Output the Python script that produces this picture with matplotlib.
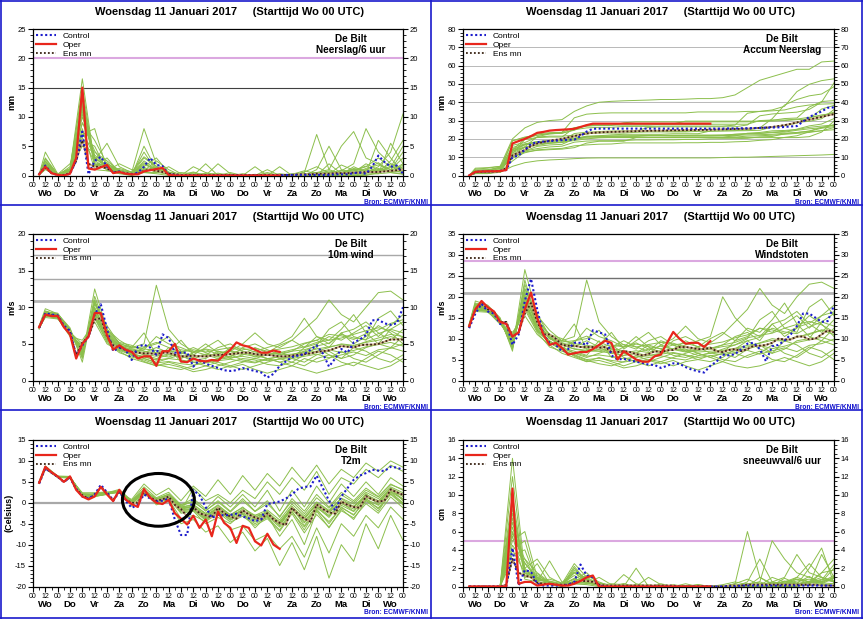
import numpy as np
import matplotlib
matplotlib.use("Agg")
import matplotlib.pyplot as plt
from matplotlib.lines import Line2D
from matplotlib.patches import Ellipse
from matplotlib.ticker import MultipleLocator
import matplotlib.transforms as mtransforms

plt.rcParams['font.family'] = ['Liberation Sans', 'DejaVu Sans']
plt.rcParams['axes.unicode_minus'] = False

# ---------------- time axes (hours after Wo 00 UTC) ----------------
t6 = np.arange(6, 361, 6)          # control / ens mean
t_oper = np.arange(6, 241, 6)      # operational run (10 days)
t_mem = np.r_[6, np.arange(12, 361, 12)]   # ensemble members (12-hourly)
days = ['Wo', 'Do', 'Vr', 'Za', 'Zo', 'Ma', 'Di', 'Wo', 'Do', 'Vr', 'Za', 'Zo', 'Ma', 'Di', 'Wo']
title = 'Woensdag 11 Januari 2017     (Starttijd Wo 00 UTC)'

# ---------------- Neerslag / 6 uur (mm) ----------------
rr_oper = [0.2, 1.5, 0.4, 0.1, 0.0, 0.3, 3.0, 15.0, 1.2, 1.0, 1.4, 1.8, 0.4, 0.6, 0.3, 0.2, 0.2, 0.7, 0.9, 1.1,
           1.3, 0.1, 0, 0, 0, 0, 0, 0, 0, 0, 0, 0, 0, 0, 0, 0, 0, 0, 0, 0]
rr_ctrl = [0.2, 1.7, 0.4, 0.1, 0.0, 0.3, 2.5, 7.5, 0.2, 2.5, 3.2, 1.5, 0.5, 0.7, 0.3, 0.2, 0.5, 1.5, 3.0, 1.8,
           1.6, 0.2, 0.1, 0, 0, 0, 0, 0, 0, 0, 0, 0, 0, 0, 0, 0, 0, 0, 0, 0,
           0.1, 0.1, 0.1, 0.1, 0.1, 0.1, 0.1, 0.1, 0.2, 0.2, 0.2, 0.4, 0.5, 0.3, 1.5, 3.4, 2.3, 1.5, 1.7, 0.3]
rr_mean = [0.3, 1.3, 0.4, 0.1, 0.1, 0.4, 2.5, 6.0, 2.0, 1.5, 1.5, 1.2, 0.6, 0.6, 0.4, 0.3, 0.3, 0.8, 1.0, 0.8,
           0.6, 0.3, 0.2, 0.1, 0.1, 0.1, 0.1, 0.1, 0.1, 0.1, 0.1, 0.1, 0.1, 0.1, 0.1, 0.1, 0.1, 0.1, 0.1, 0.1,
           0.1, 0.1, 0.2, 0.2, 0.2, 0.3, 0.3, 0.3, 0.4, 0.4, 0.4, 0.5, 0.5, 0.6, 0.6, 0.6, 0.7, 0.8, 0.9, 1.0]
rr_members = [
    [0.2, 2.0, 0.1, 0.5, 12.0, 3.0, 1.5, 0.5, 0.2, 1.0, 0.8, 0.2, 0, 0, 0, 0, 0, 0, 0, 0, 0, 0.1, 0.3, 0.5, 0.2, 0.5, 1.0, 0.8, 0.5, 1.0, 0.5],
    [0.3, 1.5, 0.2, 1.0, 16.5, 2.0, 1.0, 0.8, 0.3, 2.0, 1.0, 0.3, 0, 0.5, 0, 0, 0.2, 0, 0, 0, 0, 0, 0.5, 7.0, 1.0, 0.3, 0.5, 2.0, 1.0, 0.5, 0.2],
    [0.2, 4.0, 0.3, 0.8, 9.0, 6.0, 2.0, 1.0, 0.5, 8.0, 2.0, 0.5, 0.2, 0, 0, 0, 0, 0, 0, 0.5, 0, 0, 0, 0.3, 0, 0.8, 2.0, 8.0, 4.0, 2.0, 1.0],
    [0.1, 1.0, 0.0, 1.5, 14.0, 1.5, 3.0, 0.5, 0, 0.5, 0.5, 1.5, 0.3, 0, 0, 2.0, 0.3, 0, 0, 0, 0, 0, 0, 1.0, 5.0, 1.0, 0.5, 0.5, 1.5, 4.0, 10.5],
    [0.2, 2.5, 0.2, 2.0, 7.0, 8.0, 1.0, 0.3, 0, 5.0, 1.0, 0.3, 0, 1.5, 0.5, 0, 0, 0, 0, 0, 0, 0, 0, 0, 0.3, 0.5, 1.0, 0.3, 6.0, 3.0, 0.5],
    [0.3, 1.8, 0.1, 0.3, 11.0, 2.5, 5.5, 1.5, 0.5, 1.5, 3.0, 0.5, 0, 0, 0, 0, 0, 0, 1.5, 0, 0, 0, 0, 0, 0, 0, 0.3, 0.5, 0.3, 5.5, 2.0],
    [0.2, 3.0, 0.2, 1.2, 5.0, 4.0, 2.5, 0.8, 0.3, 3.0, 1.5, 0.2, 0.5, 0.3, 0, 0, 0, 0.3, 0, 0, 1.5, 0, 0.2, 0.5, 1.0, 5.0, 7.5, 3.0, 2.0, 1.0, 4.0],
    [0.1, 1.2, 0.0, 0.5, 8.0, 1.0, 0.8, 2.0, 1.0, 0.5, 0.3, 0, 0, 0, 0, 0, 0, 0, 0, 0, 0, 0, 0, 0, 0, 0, 0, 0.2, 0.3, 0.5, 0.3],
    [0.2, 2.2, 0.2, 0.8, 10.0, 3.5, 1.5, 0.5, 0.2, 4.0, 0.8, 0.2, 0, 0.2, 0, 0, 0, 0, 0, 1.0, 0, 0, 0, 0.2, 0.5, 0.5, 0.8, 1.5, 3.0, 1.5, 0.8],
    [0.3, 1.6, 0.1, 0.6, 13.0, 2.0, 1.2, 0.6, 0.2, 1.2, 0.7, 0.3, 0.1, 0, 0, 0, 0, 0, 0, 0, 0, 0.2, 0.8, 0.3, 0, 0.5, 0.3, 1.0, 0.8, 0.6, 1.5],
    [0.2, 1.4, 0.1, 0.4, 6.0, 5.0, 0.8, 0.4, 0.3, 0.8, 2.5, 1.0, 0, 0, 2.0, 0, 0, 0, 0, 0, 0, 0, 0, 0, 0, 0, 0, 0, 0.5, 2.5, 6.0],
    [0.1, 2.8, 0.2, 0.9, 15.0, 1.8, 2.0, 0.7, 0.2, 2.5, 1.0, 0.4, 0, 0, 0, 0, 0.5, 0, 0, 0, 0, 0, 0, 0, 2.0, 0.3, 0, 0.5, 1.0, 0.8, 2.0],
    [0.3, 1.2, 0.2, 0.6, 10.5, 2.8, 1.8, 0.6, 0.3, 1.8, 1.2, 0.3, 0.1, 0.2, 0.1, 0.2, 0, 0.1, 0, 0.1, 0, 0.1, 0.2, 0.4, 0.3, 0.6, 0.4, 1.2, 1.8, 1.0, 3.0],
    [0.2, 1.9, 0.1, 0.7, 7.5, 3.2, 1.3, 0.9, 0.4, 2.2, 0.6, 0.2, 0, 0.1, 0.3, 0, 0.1, 0, 0.2, 0, 0.3, 0.1, 0, 0.2, 0.8, 0.2, 1.5, 0.6, 0.9, 2.0, 1.2],
    [0.2, 1.1, 0.2, 0.9, 11.5, 1.6, 2.2, 0.4, 0.2, 1.0, 0.9, 0.6, 0.2, 0, 0, 0, 0, 0.2, 0, 0, 0, 0, 0.6, 1.5, 0.4, 0.9, 0.2, 0.5, 1.2, 0.7, 0.6],
    [0.1, 1.7, 0.1, 0.5, 9.0, 4.2, 0.9, 1.2, 0.6, 3.2, 1.6, 0.2, 0, 0, 0.4, 0.2, 0, 0, 0, 0.3, 0, 0.3, 0, 0.1, 0.2, 1.8, 0.9, 1.6, 0.6, 1.4, 5.0],
    [0.3, 2.4, 0.2, 1.1, 6.5, 2.2, 1.6, 0.5, 0.3, 1.4, 0.5, 0.4, 0.1, 0.6, 0, 0, 0, 0, 0.1, 0, 0.2, 0, 0.3, 0.2, 0.6, 0.4, 1.2, 0.9, 2.2, 0.5, 1.8],
    [0.2, 1.3, 0.1, 0.4, 12.5, 2.6, 1.1, 0.7, 0.2, 0.9, 1.4, 0.2, 0, 0, 0, 0.4, 0, 0, 0, 0, 0, 0, 0.1, 0.3, 0.1, 0.2, 0.6, 0.4, 0.7, 1.6, 0.9],
]

# ---------------- Accum Neerslag (mm) ----------------
acc_oper = [0.0, 2.0, 2.2, 2.3, 2.3, 2.4, 3.0, 17.5, 18.8, 20.0, 21.5, 23.3, 23.8, 24.5, 24.8, 25.0, 25.2, 25.5, 26.5, 27.5,
            28.3, 28.3, 28.3, 28.3, 28.3, 28.3, 28.3, 28.3, 28.3, 28.3, 28.3, 28.3, 28.3, 28.3, 28.3, 28.3, 28.3, 28.3, 28.3, 28.3]
acc_ctrl = [0.0, 2.0, 2.2, 2.3, 2.3, 2.5, 3.0, 10.0, 11.0, 14.0, 17.2, 18.2, 18.5, 18.8, 19.0, 19.3, 19.5, 19.6, 21.5, 24.0,
            25.5, 25.6, 25.6, 25.6, 25.6, 25.6, 25.6, 25.6, 25.6, 25.6, 25.6, 25.6, 25.6, 25.6, 25.6, 25.6, 25.6, 25.6, 25.6, 25.6,
            25.6, 25.6, 25.7, 25.7, 25.8, 25.8, 25.9, 26.0, 26.1, 26.2, 26.3, 26.5, 26.8, 27.0, 29.5, 32.0, 33.5, 35.0, 37.0, 37.2]
acc_mean = [0.0, 1.8, 2.0, 2.1, 2.2, 2.3, 4.0, 11.0, 12.5, 14.0, 16.0, 17.5, 18.3, 19.0, 19.5, 20.0, 20.8, 21.5, 22.3, 23.0,
            23.3, 23.5, 23.7, 23.8, 23.9, 24.0, 24.1, 24.2, 24.3, 24.4, 24.5, 24.5, 24.6, 24.7, 24.7, 24.8, 24.8, 24.9, 24.9, 25.0,
            25.1, 25.2, 25.3, 25.4, 25.5, 25.6, 25.8, 26.0, 26.2, 26.5, 27.0, 27.5, 28.2, 29.0, 29.8, 30.5, 31.3, 32.0, 32.8, 33.5]
acc_members = [
    [0, 2.0, 2.2, 2.5, 14.0, 17.0, 18.5, 19.0, 19.2, 20.0, 20.5, 20.7, 20.7, 20.7, 20.7, 20.7, 20.7, 20.7, 20.7, 20.7, 20.7, 20.8, 21.0, 21.5, 21.7, 22.0, 22.5, 23.0, 23.5, 24.5, 25.0],
    [0, 1.5, 1.7, 2.7, 19.0, 21.0, 22.0, 22.8, 23.0, 25.0, 26.0, 26.3, 26.3, 26.8, 26.8, 26.8, 27.0, 27.0, 27.0, 27.0, 27.0, 27.0, 27.5, 34.0, 35.0, 35.3, 35.8, 37.5, 38.5, 39.0, 39.2],
    [0, 4.0, 4.3, 5.0, 14.0, 20.0, 22.0, 23.0, 23.5, 31.5, 33.5, 34.0, 34.2, 34.2, 34.2, 34.2, 34.2, 34.2, 34.2, 34.7, 34.7, 34.7, 34.7, 35.0, 35.0, 35.8, 37.8, 45.8, 49.8, 51.8, 52.8],
    [0, 1.0, 1.0, 2.5, 16.5, 18.0, 21.0, 21.5, 21.5, 22.0, 22.5, 24.0, 24.3, 24.3, 24.3, 26.3, 26.6, 26.6, 26.6, 26.6, 26.6, 26.6, 26.6, 27.6, 32.6, 33.6, 34.1, 34.6, 36.1, 40.1, 50.6],
    [0, 2.5, 2.7, 4.7, 11.7, 19.7, 20.7, 21.0, 21.0, 26.0, 27.0, 27.3, 27.3, 28.8, 29.3, 29.3, 29.3, 29.3, 29.3, 29.3, 29.3, 29.3, 29.3, 29.3, 29.6, 30.1, 31.1, 31.4, 37.4, 40.4, 40.9],
    [0, 1.8, 1.9, 2.2, 13.2, 15.7, 21.2, 22.7, 23.2, 24.7, 27.7, 28.2, 28.2, 28.2, 28.2, 28.2, 28.2, 28.2, 29.7, 29.7, 29.7, 29.7, 29.7, 29.7, 29.7, 29.7, 30.0, 30.5, 30.8, 36.3, 38.3],
    [0, 3.0, 3.2, 4.4, 9.4, 13.4, 15.9, 16.7, 17.0, 20.0, 21.5, 21.7, 22.2, 22.5, 22.5, 22.5, 22.5, 22.8, 22.8, 22.8, 24.3, 24.3, 24.5, 25.0, 26.0, 31.0, 38.5, 41.5, 43.5, 44.5, 48.5],
    [0, 1.2, 1.2, 1.7, 5.0, 7.0, 8.0, 8.5, 8.8, 9.2, 9.5, 9.6, 9.6, 9.6, 9.6, 9.6, 9.6, 9.6, 9.6, 9.6, 9.6, 9.8, 10.0, 10.0, 10.2, 10.4, 10.6, 10.8, 11.0, 11.2, 11.5],
    [0, 2.2, 2.4, 3.2, 13.2, 16.7, 18.2, 18.7, 18.9, 22.9, 23.7, 23.9, 23.9, 24.1, 24.1, 24.1, 24.1, 24.1, 24.1, 25.1, 25.1, 25.1, 25.1, 25.3, 25.8, 26.3, 27.1, 28.6, 31.6, 33.1, 33.9],
    [0, 1.6, 1.7, 2.3, 15.3, 17.3, 18.5, 19.1, 19.3, 20.5, 21.2, 21.5, 21.6, 21.6, 21.6, 21.6, 21.6, 21.6, 21.6, 21.6, 21.6, 21.8, 22.6, 22.9, 22.9, 23.4, 23.7, 24.7, 25.5, 26.1, 27.6],
    [0, 1.4, 1.5, 1.9, 7.9, 12.9, 13.7, 14.1, 14.4, 15.2, 17.7, 18.7, 18.7, 18.7, 20.7, 20.7, 20.7, 20.7, 20.7, 20.7, 20.7, 20.7, 20.7, 20.7, 20.7, 20.7, 20.7, 20.7, 21.2, 23.7, 29.7],
    [0, 2.8, 3.0, 3.9, 18.9, 20.7, 22.7, 23.4, 23.6, 26.1, 27.1, 27.5, 27.5, 27.5, 27.5, 27.5, 28.0, 28.0, 28.0, 28.0, 28.0, 28.0, 28.0, 28.0, 30.0, 30.3, 30.3, 30.8, 31.8, 32.6, 34.6],
    [0, 3.5, 4.0, 5.0, 20.0, 26.0, 29.0, 30.0, 30.5, 35.0, 38.0, 40.0, 40.5, 40.8, 41.0, 41.2, 41.5, 41.5, 41.7, 42.0, 42.0, 42.5, 44.0, 48.0, 52.0, 54.0, 56.0, 58.0, 58.0, 62.0, 62.5],
    [0, 1.2, 1.4, 2.0, 12.5, 15.3, 17.1, 17.7, 18.0, 19.8, 21.0, 21.3, 21.4, 21.6, 21.7, 21.9, 21.9, 22.0, 22.0, 22.1, 22.1, 22.2, 22.4, 22.8, 23.1, 23.7, 24.1, 25.3, 27.1, 28.1, 31.1],
    [0, 1.9, 2.0, 2.7, 10.2, 13.4, 14.7, 15.6, 16.0, 18.2, 18.8, 19.0, 19.0, 19.1, 19.4, 19.4, 19.5, 19.5, 19.7, 19.7, 20.0, 20.1, 20.1, 20.3, 21.1, 21.3, 22.8, 23.4, 24.3, 26.3, 27.5],
    [0, 1.1, 1.3, 2.2, 13.7, 15.3, 17.5, 17.9, 18.1, 19.1, 20.0, 20.6, 20.8, 20.8, 20.8, 20.8, 20.8, 21.0, 21.0, 21.0, 21.0, 21.0, 21.6, 23.1, 23.5, 24.4, 24.6, 25.1, 26.3, 27.0, 27.6],
    [0, 1.7, 1.8, 2.3, 11.3, 15.5, 16.4, 17.6, 18.2, 21.4, 23.0, 23.2, 23.2, 23.2, 23.6, 23.8, 23.8, 23.8, 23.8, 24.1, 24.1, 24.4, 24.4, 24.5, 24.7, 26.5, 27.4, 29.0, 29.6, 31.0, 36.0],
    [0, 2.4, 2.6, 3.7, 10.2, 12.4, 14.0, 14.5, 14.8, 16.2, 16.7, 17.1, 17.2, 17.8, 17.8, 17.8, 17.8, 17.8, 17.9, 17.9, 18.1, 18.1, 18.4, 18.6, 19.2, 19.6, 20.8, 21.7, 23.9, 24.4, 26.2],
    [0, 1.3, 1.4, 1.8, 14.3, 16.9, 18.0, 18.7, 18.9, 19.8, 21.2, 21.4, 21.4, 21.4, 21.4, 21.8, 21.8, 21.8, 21.8, 21.8, 21.8, 21.8, 21.9, 22.2, 22.3, 22.5, 23.1, 23.5, 24.2, 25.8, 26.7],
]

# ---------------- 10m wind (m/s) ----------------
ff_oper = [7.3, 9.0, 8.8, 8.8, 7.3, 6.3, 3.0, 5.0, 6.0, 9.2, 9.2, 6.2, 4.2, 4.8, 4.2, 3.9, 3.0, 3.3, 3.3, 2.0,
           4.0, 4.0, 5.0, 2.6, 2.5, 3.0, 2.7, 2.6, 2.8, 2.7, 3.5, 4.2, 5.2, 4.8, 4.6, 4.2, 3.8, 3.8, 4.1, 3.9]
ff_ctrl = [7.2, 9.2, 9.0, 8.9, 7.5, 6.8, 3.3, 4.8, 6.0, 9.0, 10.4, 7.0, 4.0, 4.5, 4.2, 2.8, 4.6, 4.9, 4.5, 3.5,
           6.3, 5.8, 3.8, 3.8, 3.8, 1.9, 2.8, 2.3, 2.0, 1.7, 1.4, 1.3, 1.4, 1.7, 1.5, 1.3, 1.1, 0.4, 0.9, 2.0,
           2.6, 3.2, 3.4, 3.6, 4.2, 4.8, 3.7, 1.9, 3.0, 4.3, 3.8, 5.2, 5.6, 6.2, 8.2, 8.3, 7.8, 7.6, 7.8, 10.0]
ff_mean = [7.2, 9.0, 8.9, 8.8, 7.3, 6.6, 3.5, 5.2, 6.0, 8.3, 8.5, 6.0, 4.8, 4.5, 4.2, 3.9, 3.8, 3.7, 3.7, 3.6,
           3.8, 3.8, 3.5, 3.3, 3.3, 3.4, 3.3, 3.3, 3.4, 3.5, 3.5, 3.6, 3.7, 3.8, 3.8, 3.6, 3.5, 3.5, 3.4, 3.3,
           3.3, 3.4, 3.5, 3.6, 3.7, 3.9, 4.0, 4.1, 4.4, 4.7, 4.6, 4.5, 4.8, 4.9, 4.9, 5.0, 5.3, 5.6, 5.6, 5.6]
ff_members = [
    [7.2, 9.1, 8.8, 6.5, 4.5, 9.0, 6.0, 4.5, 4.0, 3.5, 3.0, 3.5, 3.2, 3.0, 3.5, 3.0, 3.3, 3.8, 3.5, 3.0, 3.2, 3.5, 3.8, 4.0, 4.5, 5.0, 4.8, 5.2, 5.5, 6.0, 5.5],
    [7.4, 9.5, 9.0, 7.0, 3.2, 12.5, 7.0, 5.5, 4.5, 5.0, 13.0, 7.0, 5.0, 4.0, 3.5, 4.5, 5.0, 4.0, 3.5, 3.0, 2.5, 3.0, 4.5, 6.0, 5.5, 7.0, 9.0, 6.5, 5.0, 4.5, 6.0],
    [7.1, 8.8, 8.5, 6.0, 5.5, 8.0, 5.0, 4.0, 3.0, 2.5, 2.0, 2.5, 2.0, 1.5, 2.0, 2.5, 2.0, 1.5, 2.0, 2.5, 3.0, 2.5, 2.0, 3.0, 3.5, 2.5, 2.0, 3.0, 4.0, 3.5, 2.5],
    [7.3, 9.3, 9.2, 6.8, 3.8, 10.5, 7.5, 5.0, 3.5, 4.5, 5.0, 6.0, 4.0, 3.0, 2.5, 3.0, 4.0, 5.0, 6.5, 5.0, 4.5, 5.5, 7.0, 8.5, 11.0, 9.0, 8.0, 10.0, 12.0, 12.2, 11.0],
    [7.0, 9.0, 8.6, 6.3, 4.0, 9.5, 5.5, 4.2, 3.8, 3.0, 2.5, 3.0, 3.5, 2.5, 2.0, 1.5, 2.0, 2.5, 3.0, 3.5, 4.0, 3.0, 2.5, 3.5, 4.0, 3.0, 3.5, 4.5, 5.0, 7.0, 8.0],
    [7.5, 9.8, 9.1, 7.2, 2.5, 11.0, 6.5, 4.8, 4.5, 6.5, 3.5, 4.0, 5.5, 3.5, 4.5, 5.5, 4.0, 3.5, 4.0, 4.5, 5.0, 6.0, 8.5, 6.0, 5.0, 6.5, 7.0, 8.0, 6.5, 5.5, 7.0],
    [7.2, 8.6, 8.4, 6.6, 5.0, 8.5, 5.2, 3.8, 3.2, 2.8, 2.2, 1.8, 1.5, 2.0, 2.8, 2.2, 1.8, 2.2, 1.5, 1.0, 1.5, 2.0, 1.5, 1.0, 1.5, 2.0, 2.5, 2.0, 1.5, 2.0, 3.0],
    [7.3, 9.2, 8.9, 6.9, 3.5, 10.0, 6.2, 4.6, 4.2, 3.8, 4.5, 3.8, 3.0, 3.8, 4.2, 3.6, 3.2, 4.5, 5.0, 4.2, 3.5, 4.0, 5.0, 5.5, 4.5, 6.5, 5.0, 6.0, 7.5, 6.5, 5.0],
    [7.1, 9.0, 8.7, 6.2, 4.2, 8.8, 5.8, 4.3, 3.6, 3.3, 2.8, 4.5, 2.5, 2.8, 3.0, 4.0, 3.5, 2.8, 2.5, 3.0, 2.5, 2.0, 3.0, 2.5, 3.0, 4.0, 3.0, 2.5, 3.5, 4.5, 4.0],
    [7.4, 9.4, 9.0, 6.7, 3.0, 11.5, 6.8, 5.2, 4.8, 4.0, 3.5, 3.2, 3.8, 4.5, 3.8, 3.2, 4.5, 4.0, 3.2, 3.8, 4.8, 5.5, 4.5, 5.0, 6.0, 5.5, 6.5, 7.5, 6.0, 7.5, 9.0],
    [7.2, 8.9, 8.6, 6.4, 4.6, 9.2, 5.6, 4.4, 3.4, 2.6, 2.0, 2.2, 1.8, 1.2, 1.5, 2.0, 2.5, 3.0, 2.8, 2.2, 2.0, 2.5, 3.5, 4.5, 3.5, 3.0, 4.5, 4.0, 3.0, 2.5, 3.5],
    [7.3, 9.2, 8.8, 6.5, 3.8, 9.8, 6.0, 4.9, 4.0, 4.2, 6.0, 5.0, 4.5, 3.8, 5.0, 3.8, 3.0, 3.5, 4.5, 3.8, 3.0, 3.5, 4.0, 4.8, 7.0, 8.0, 6.0, 5.5, 8.5, 9.5, 7.5],
    [7.2, 9.0, 8.7, 6.6, 4.1, 9.4, 5.9, 4.6, 4.1, 3.6, 3.3, 3.6, 3.4, 3.2, 3.6, 3.3, 3.6, 3.9, 3.7, 3.4, 3.5, 3.6, 3.9, 4.3, 4.6, 4.9, 4.7, 5.3, 5.8, 6.3, 6.0],
    [7.3, 9.1, 8.9, 6.8, 3.6, 9.9, 6.3, 4.7, 4.3, 4.0, 3.8, 4.1, 3.7, 3.5, 3.2, 3.7, 4.1, 3.6, 3.3, 3.6, 3.8, 4.2, 4.6, 5.2, 5.5, 5.8, 6.3, 6.8, 7.2, 6.8, 5.9],
    [7.2, 8.9, 8.6, 6.4, 4.4, 9.1, 5.7, 4.4, 3.7, 3.2, 2.8, 3.0, 2.8, 2.5, 2.7, 2.9, 3.1, 3.3, 3.0, 2.7, 2.9, 3.2, 3.5, 3.8, 4.2, 3.8, 4.1, 4.6, 4.9, 5.2, 4.7],
    [7.3, 9.3, 9.0, 6.9, 3.4, 10.5, 6.6, 5.0, 4.6, 4.3, 4.1, 3.9, 4.2, 3.9, 4.3, 4.0, 3.7, 4.2, 4.4, 4.0, 4.3, 4.6, 5.1, 5.5, 6.3, 6.1, 5.6, 6.4, 6.9, 7.8, 8.3],
    [7.1, 8.8, 8.5, 6.2, 4.8, 8.7, 5.4, 4.1, 3.5, 3.0, 2.4, 2.6, 2.3, 2.1, 2.4, 2.7, 2.9, 2.6, 2.4, 2.9, 3.3, 3.0, 3.3, 3.6, 3.1, 3.5, 3.9, 3.4, 4.2, 4.4, 5.0],
    [7.4, 9.4, 9.1, 7.0, 3.3, 10.8, 6.9, 5.1, 4.4, 4.6, 5.2, 4.5, 3.9, 4.2, 3.9, 4.2, 4.5, 4.4, 3.9, 3.5, 3.7, 4.0, 4.2, 4.7, 5.1, 6.3, 5.8, 5.6, 6.4, 7.0, 6.5],
]

# ---------------- Windstoten (m/s) ----------------
fx_oper = [13.0, 17.0, 19.0, 17.5, 16.5, 14.0, 13.5, 10.5, 11.5, 17.0, 21.0, 15.0, 11.0, 8.5, 9.0, 7.8, 6.2, 6.5, 6.8, 6.8,
           7.5, 8.5, 9.5, 9.0, 5.0, 7.0, 6.0, 5.0, 4.5, 4.5, 5.8, 6.2, 9.0, 11.6, 10.0, 8.8, 9.0, 9.0, 8.0, 9.4]
fx_ctrl = [12.5, 16.0, 18.3, 16.5, 16.0, 13.5, 13.8, 8.5, 11.0, 19.0, 24.3, 17.0, 11.0, 9.0, 8.5, 7.0, 7.5, 9.0, 9.0, 8.5,
           12.0, 11.5, 11.0, 6.0, 5.0, 5.2, 4.8, 4.5, 4.2, 3.8, 3.7, 3.0, 3.5, 4.1, 4.0, 3.2, 2.6, 2.2, 1.9, 3.5,
           4.5, 6.2, 6.0, 6.3, 7.5, 8.8, 9.0, 7.5, 4.6, 8.2, 8.5, 9.5, 11.0, 13.0, 16.0, 16.0, 15.0, 14.0, 14.2, 18.0]
fx_mean = [12.8, 17.0, 18.5, 17.0, 16.5, 14.0, 14.0, 10.5, 11.5, 16.0, 18.5, 14.0, 11.0, 11.0, 10.0, 8.5, 8.3, 8.3, 8.0, 8.0,
           8.0, 7.8, 8.0, 6.8, 6.8, 7.0, 6.8, 6.3, 6.0, 6.3, 7.0, 6.8, 7.2, 7.3, 8.0, 8.0, 7.8, 7.5, 7.5, 7.8,
           7.0, 6.8, 7.3, 7.5, 7.0, 7.5, 8.3, 8.3, 8.5, 9.0, 10.0, 9.8, 9.8, 10.5, 10.5, 9.8, 10.0, 11.0, 12.0, 11.5]
fx_members = [
    [13.0, 17.5, 17.0, 14.0, 10.0, 18.0, 13.0, 10.5, 8.5, 7.5, 7.0, 7.0, 6.5, 6.0, 6.5, 6.0, 6.5, 7.5, 7.0, 6.0, 6.5, 7.0, 7.5, 8.0, 9.0, 10.0, 9.5, 10.5, 11.0, 12.0, 11.0],
    [13.3, 18.5, 17.8, 14.8, 7.5, 26.5, 15.5, 12.0, 9.5, 10.5, 24.0, 14.0, 10.5, 8.5, 7.5, 9.5, 10.5, 8.5, 7.5, 6.5, 5.5, 6.5, 9.5, 12.5, 11.5, 14.5, 18.5, 13.5, 10.5, 9.5, 12.5],
    [12.8, 16.8, 16.5, 13.5, 11.5, 15.5, 11.0, 8.5, 6.5, 5.5, 4.5, 5.5, 4.5, 3.5, 4.5, 5.0, 4.5, 3.5, 4.5, 5.0, 6.0, 5.0, 4.5, 6.0, 7.0, 5.0, 4.5, 6.0, 8.0, 7.0, 5.0],
    [13.2, 18.0, 17.5, 14.5, 8.5, 22.0, 16.0, 10.5, 7.5, 9.5, 10.0, 12.0, 8.5, 6.5, 5.5, 6.5, 8.5, 10.0, 13.0, 10.0, 9.0, 11.0, 14.0, 17.0, 22.0, 18.0, 16.0, 20.0, 23.0, 23.5, 22.0],
    [12.7, 17.2, 16.8, 13.8, 9.0, 19.5, 12.0, 9.0, 8.0, 6.5, 5.5, 6.5, 7.5, 5.5, 4.5, 3.5, 4.5, 5.5, 6.5, 7.5, 8.0, 6.5, 5.5, 7.5, 8.5, 6.5, 7.5, 9.5, 10.0, 14.0, 16.0],
    [13.5, 19.0, 18.0, 15.0, 7.0, 24.0, 14.0, 10.0, 9.5, 13.5, 7.5, 8.5, 11.5, 7.5, 9.5, 11.5, 8.5, 7.5, 8.5, 9.5, 10.5, 20.0, 15.0, 12.0, 10.5, 13.5, 14.5, 16.5, 13.5, 11.5, 14.5],
    [12.9, 16.5, 16.3, 14.2, 11.0, 17.0, 11.5, 8.0, 7.0, 6.0, 4.8, 4.0, 3.5, 4.5, 6.0, 4.8, 4.0, 4.8, 3.5, 2.5, 3.5, 4.5, 3.5, 3.0, 3.5, 4.5, 5.5, 4.5, 3.5, 4.5, 6.5],
    [13.1, 17.8, 17.2, 14.6, 8.0, 20.5, 13.5, 10.0, 9.0, 8.0, 9.5, 8.0, 6.5, 8.0, 9.0, 7.5, 7.0, 9.5, 10.5, 9.0, 7.5, 8.5, 10.5, 11.5, 9.5, 13.5, 10.5, 12.5, 15.5, 13.5, 10.5],
    [12.8, 17.0, 16.8, 13.6, 9.5, 18.5, 12.5, 9.3, 7.8, 7.0, 6.0, 9.5, 5.5, 6.0, 6.5, 8.5, 7.5, 6.0, 5.5, 6.5, 5.5, 4.5, 6.5, 5.5, 6.5, 8.5, 6.5, 5.5, 7.5, 9.5, 8.5],
    [13.4, 18.2, 17.6, 14.4, 7.8, 23.0, 14.5, 11.0, 10.0, 8.5, 7.5, 7.0, 8.0, 9.5, 8.0, 7.0, 9.5, 8.5, 7.0, 8.0, 10.0, 11.5, 9.5, 10.5, 12.5, 11.5, 13.5, 15.5, 12.5, 15.5, 18.0],
    [12.9, 17.1, 16.6, 13.9, 10.5, 19.0, 12.0, 9.5, 7.5, 5.8, 4.5, 4.8, 4.0, 3.0, 3.5, 4.5, 5.5, 6.5, 6.0, 5.0, 4.5, 5.5, 7.5, 9.5, 7.5, 6.5, 9.5, 8.5, 6.5, 5.5, 7.5],
    [13.1, 17.6, 17.0, 14.2, 9.0, 20.0, 13.0, 10.5, 8.5, 9.0, 12.5, 10.5, 9.5, 8.0, 10.5, 8.0, 6.5, 7.5, 9.5, 8.0, 6.5, 7.5, 8.5, 10.0, 14.5, 16.5, 12.5, 11.5, 17.5, 19.5, 15.5],
    [12.9, 17.3, 17.1, 14.1, 9.2, 18.8, 12.8, 10.0, 8.4, 7.6, 7.2, 7.4, 7.0, 6.6, 7.1, 6.7, 7.0, 7.6, 7.3, 6.8, 7.0, 7.2, 7.7, 8.4, 8.9, 9.6, 9.4, 10.3, 11.2, 12.1, 11.8],
    [13.1, 17.6, 17.3, 14.3, 8.4, 19.8, 13.5, 10.2, 8.8, 8.3, 8.0, 8.4, 7.6, 7.1, 6.6, 7.5, 8.2, 7.4, 6.8, 7.3, 7.7, 8.5, 9.1, 10.2, 10.8, 11.3, 12.5, 13.4, 14.1, 13.3, 11.6],
    [12.8, 17.0, 16.7, 13.7, 10.1, 18.2, 12.2, 9.4, 7.6, 6.6, 5.8, 6.1, 5.7, 5.2, 5.6, 5.9, 6.3, 6.7, 6.1, 5.5, 5.9, 6.4, 7.1, 7.6, 8.4, 7.6, 8.2, 9.1, 9.7, 10.3, 9.4],
    [13.2, 17.9, 17.4, 14.5, 8.0, 21.0, 14.0, 10.8, 9.5, 8.8, 8.4, 8.0, 8.5, 8.0, 8.7, 8.1, 7.6, 8.5, 8.9, 8.1, 8.7, 9.2, 10.2, 10.9, 12.5, 12.1, 11.2, 12.7, 13.7, 15.5, 16.4],
    [12.7, 16.9, 16.5, 13.5, 10.8, 17.6, 11.8, 9.0, 7.3, 6.2, 5.0, 5.3, 4.8, 4.4, 4.9, 5.5, 5.9, 5.3, 4.9, 5.9, 6.6, 6.1, 6.7, 7.2, 6.3, 7.1, 7.8, 6.9, 8.4, 8.8, 9.9],
    [13.3, 18.2, 17.7, 14.6, 7.7, 21.8, 14.6, 11.0, 9.2, 9.5, 10.6, 9.2, 8.0, 8.6, 8.0, 8.6, 9.1, 8.9, 8.0, 7.2, 7.5, 8.1, 8.5, 9.5, 10.3, 12.5, 11.6, 11.2, 12.8, 14.0, 13.0],
]

# ---------------- T2m (Celsius) ----------------
tt_oper = [4.8, 8.6, 7.3, 6.3, 5.0, 6.3, 3.1, 1.5, 0.8, 1.5, 3.8, 2.0, 0.4, 3.1, 0.8, -0.3, -1.0, 3.3, 1.2, 0.0,
           -0.3, 0.7, -2.5, -3.8, -5.2, -3.1, -6.0, -4.0, -8.0, -2.1, -4.8, -6.0, -9.6, -5.5, -6.0, -9.2, -10.2, -7.4, -10.0, -11.0]
tt_ctrl = [4.6, 8.2, 7.2, 6.2, 5.0, 6.0, 3.3, 1.5, 1.0, 2.0, 4.3, 2.5, 0.5, 2.6, 0.5, -1.2, -0.5, 2.0, 1.0, 0.3,
           0.5, 1.0, -4.0, -7.7, -7.7, 3.0, 1.8, -1.0, -3.6, -2.9, -3.0, -2.9, -2.6, -3.3, -3.7, -4.4, -4.0, -0.3, 0.0, 0.3,
           1.0, 2.0, 3.3, 3.8, 3.9, 6.5, 3.5, 0.5, -1.8, 1.5, 3.5, 5.5, 6.5, 7.1, 7.9, 7.7, 7.6, 8.6, 8.4, 7.9]
tt_mean = [4.8, 8.3, 7.2, 6.2, 5.0, 6.1, 3.3, 1.8, 1.0, 1.8, 3.8, 2.2, 0.7, 2.7, 0.8, 0.0, 0.0, 2.5, 1.3, 0.5,
           0.8, 1.5, -0.5, -1.5, -3.3, -1.0, -2.5, -3.0, -3.5, -1.2, -2.5, -3.3, -3.8, -1.8, -2.8, -3.5, -4.0, -2.5, -4.0, -4.8,
           -5.3, -1.2, -2.8, -3.8, -4.5, -0.4, -1.5, -2.3, -2.6, 0.3, -0.5, -1.0, -1.2, 1.6, 0.8, 0.3, 0.5, 3.2, 2.5, 1.9]
tt_members = [
    [4.9, 8.6, 6.3, 6.2, 1.5, 1.5, 2.0, 3.0, -0.3, 3.2, 0.0, 0.8, -3.8, -3.0, -4.5, -2.5, -6.5, -5.5, -9.0, -7.5, -11.0, -8.0, -13.0, -6.0, -12.0, -5.0, -8.0, -3.0, -6.0, -1.0, -4.0],
    [4.6, 8.2, 6.2, 6.0, 1.6, 2.2, 2.5, 2.6, -0.8, 2.0, 0.4, 1.2, -2.0, 3.5, 0.5, 2.0, 0.0, 3.0, 1.0, 5.0, 2.0, 6.0, 3.0, 7.5, 2.0, 6.0, 4.5, 8.0, 6.0, 9.0, 7.5],
    [4.8, 8.4, 6.1, 6.1, 2.0, 1.8, 2.3, 2.8, 0.2, 2.8, 0.8, 1.8, -1.0, -0.5, -2.5, -0.5, -3.0, -1.0, -3.5, -2.0, -5.0, -1.5, -4.0, 0.0, -2.0, 1.0, -1.0, 2.0, 0.5, 3.5, 2.0],
    [5.0, 8.8, 6.4, 6.3, 1.7, 1.6, 2.1, 2.5, 0.0, 2.3, 0.2, 1.0, -2.5, -2.0, -5.0, -3.5, -5.0, -2.5, -6.0, -3.0, -8.0, -4.0, -10.0, -2.0, -6.0, -1.5, -4.0, 0.5, -2.0, 2.5, 0.0],
    [4.7, 8.3, 6.0, 6.0, 2.2, 2.0, 2.4, 3.2, 0.5, 3.8, 1.2, 2.5, -0.5, 1.0, -1.5, 1.5, -1.0, 2.0, -1.0, 3.0, -2.0, 3.0, -1.0, 4.0, 0.0, 4.5, 1.5, 5.0, 2.0, 6.0, 4.0],
    [4.8, 8.5, 6.2, 6.2, 1.8, 1.9, 2.2, 2.7, -0.2, 2.5, 0.5, 1.5, -1.5, -1.0, -3.0, -1.5, -3.5, -2.0, -3.0, -2.5, -4.5, -1.0, -3.5, -0.5, -2.5, 0.5, -1.0, 1.5, 0.0, 3.0, 1.5],
    [4.9, 8.5, 6.3, 6.2, 1.4, 1.7, 2.0, 2.9, -0.5, 2.9, -0.5, 0.5, -5.0, -4.0, -7.0, -5.5, -9.5, -7.0, -11.5, -8.5, -15.0, -9.5, -16.0, -8.0, -18.0, -10.0, -14.0, -5.0, -11.0, -3.0, -9.0],
    [4.6, 8.1, 6.1, 5.9, 2.4, 2.4, 2.6, 2.3, 0.8, 4.5, 1.8, 3.5, 0.5, 4.0, 1.5, 5.5, 2.0, 6.5, 3.0, 7.0, 4.0, 8.5, 5.0, 9.0, 4.5, 8.0, 6.0, 9.5, 7.5, 10.0, 8.5],
    [4.8, 8.3, 6.2, 6.1, 1.9, 1.7, 2.2, 2.6, 0.1, 2.4, 0.6, 1.6, -1.2, -0.8, -3.2, -1.0, -3.0, -1.8, -3.8, -2.8, -5.5, -1.2, -4.5, -0.8, -3.0, -0.2, -1.5, 1.2, 0.2, 2.8, 1.0],
    [4.9, 8.6, 6.3, 6.1, 1.6, 1.5, 2.1, 2.8, -0.1, 2.2, 0.3, 1.3, -1.8, -1.5, -4.0, -2.0, -4.0, -2.8, -5.0, -3.5, -6.5, -2.0, -6.5, -1.5, -5.0, -1.0, -3.0, 1.0, -1.5, 2.0, -0.5],
    [4.7, 8.4, 6.1, 6.0, 2.0, 2.0, 2.4, 2.7, 0.3, 3.0, 1.0, 2.0, -0.8, 0.5, -2.0, 0.5, -2.0, 1.0, -2.0, 0.5, -3.5, 1.0, -2.0, 2.0, -1.0, 2.5, 0.5, 3.5, 1.5, 4.5, 3.0],
    [4.8, 8.2, 6.2, 6.1, 1.8, 1.8, 2.2, 2.6, 0.0, 2.6, 0.4, 1.4, -1.0, -1.2, -3.5, -1.2, -3.5, -1.5, -4.0, -2.2, -5.0, -0.8, -5.5, -1.0, -3.5, 0.0, -2.0, 2.2, -0.5, 3.5, 0.5],
    [4.8, 8.4, 6.2, 6.1, 1.9, 1.8, 2.2, 2.7, 0.0, 2.6, 0.5, 1.5, -1.4, -0.9, -3.0, -1.2, -3.3, -1.9, -3.4, -2.4, -4.7, -1.0, -3.7, -0.4, -2.2, 0.4, -0.8, 1.7, 0.4, 3.2, 1.8],
    [4.7, 8.3, 6.1, 6.0, 1.7, 1.7, 2.1, 2.6, -0.1, 2.4, 0.3, 1.3, -1.7, -1.3, -3.6, -1.6, -3.8, -2.3, -4.2, -2.9, -5.3, -1.6, -4.8, -1.2, -3.2, -0.6, -2.1, 0.9, -0.6, 2.6, 0.8],
    [4.9, 8.5, 6.3, 6.2, 2.0, 2.0, 2.3, 2.8, 0.2, 2.8, 0.7, 1.7, -1.1, -0.4, -2.7, -0.7, -2.8, -1.2, -3.0, -1.7, -4.1, -0.3, -3.1, 0.2, -1.8, 1.1, -0.3, 2.5, 1.0, 3.8, 2.4],
    [4.8, 8.4, 6.2, 6.2, 1.8, 1.9, 2.2, 2.7, -0.3, 2.5, 0.4, 1.4, -2.2, -1.8, -4.2, -2.3, -4.6, -3.2, -5.4, -3.8, -6.8, -2.6, -7.2, -2.8, -5.8, -1.9, -3.6, -0.2, -2.5, 1.4, -1.2],
    [4.7, 8.2, 6.1, 6.0, 2.1, 2.1, 2.4, 2.9, 0.4, 3.2, 0.9, 2.1, -0.6, 0.2, -1.8, 0.2, -2.2, 0.5, -2.1, -0.2, -3.2, 0.4, -2.6, 1.2, -1.3, 1.9, 0.1, 3.0, 1.4, 4.3, 3.2],
    [4.9, 8.6, 6.3, 6.2, 1.6, 1.6, 2.1, 2.6, -0.2, 2.3, 0.2, 1.2, -1.9, -1.6, -3.8, -1.8, -4.2, -2.6, -4.6, -3.2, -5.8, -2.2, -5.8, -1.8, -4.5, -1.2, -2.8, 0.6, -1.2, 2.2, -0.2],
]

# ---------------- sneeuwval / 6 uur (cm) ----------------
sn_oper = [0, 0, 0, 0, 0, 0, 0.0, 10.7, 0.3, 0.5, 0.5, 0.1, 0.2, 0.3, 0.2, 0.1, 0.1, 0.3, 0.6, 1.0,
           1.2, 0.0, 0, 0, 0, 0, 0, 0, 0, 0, 0, 0, 0, 0, 0, 0, 0, 0, 0, 0]
sn_ctrl = [0, 0, 0, 0, 0, 0, 0.0, 4.2, 0.1, 1.8, 1.6, 0.3, 0.1, 0.1, 0.1, 0.1, 0.2, 0.5, 2.4, 1.2,
           1.0, 0.1, 0, 0, 0, 0, 0, 0, 0, 0, 0, 0, 0, 0, 0, 0, 0, 0, 0, 0,
           0, 0, 0, 0, 0.1, 0.1, 0.1, 0.1, 0.1, 0.1, 0.1, 0.1, 0.1, 0.1, 0.1, 0.1, 0.1, 0.1, 0.1, 0.1]
sn_mean = [0, 0, 0, 0, 0, 0, 0.2, 3.0, 1.5, 1.2, 1.0, 0.4, 0.3, 0.3, 0.2, 0.2, 0.2, 0.4, 0.6, 0.6,
           0.5, 0.2, 0.1, 0.1, 0.1, 0.1, 0.1, 0.1, 0.1, 0.1, 0.1, 0.1, 0.1, 0.1, 0, 0, 0, 0, 0, 0,
           0, 0, 0.1, 0.1, 0.1, 0.2, 0.2, 0.2, 0.2, 0.2, 0.2, 0.2, 0.2, 0.2, 0.2, 0.2, 0.2, 0.1, 0.1, 0.1]
sn_members = [
    [0, 0, 0, 0, 8.0, 2.0, 0.5, 0.3, 0.1, 0.3, 0.8, 0.2, 0, 0, 0, 0, 0, 0, 0, 0, 0, 0, 0, 0.2, 0.1, 0.2, 0.5, 0.3, 0.1, 0.2, 0.1],
    [0, 0, 0, 0, 14.0, 1.5, 0.5, 0.4, 0.2, 1.5, 0.6, 0.1, 0, 0.3, 0, 0, 0, 0, 0, 0, 0, 0, 0.3, 6.0, 1.0, 0.3, 0.2, 1.0, 0.5, 0.2, 0.1],
    [0, 0, 0, 0, 5.0, 6.0, 1.0, 0.5, 0.3, 2.5, 1.0, 0.3, 0.2, 0, 0, 0, 0, 0, 0, 0.2, 0, 0, 0, 0.2, 0, 0.5, 1.0, 3.5, 1.5, 1.0, 0.5],
    [0, 0, 0, 0, 12.0, 1.0, 2.5, 0.3, 0, 0.3, 0.3, 1.0, 0.2, 0, 0, 1.0, 0.2, 0, 0, 0, 0, 0, 0, 0.5, 3.0, 0.5, 0.3, 0.3, 0.5, 1.5, 1.8],
    [0, 0, 0, 0, 4.0, 5.0, 0.5, 0.2, 0, 2.0, 0.5, 0.2, 0, 1.3, 0.3, 0, 0, 0, 0, 0, 0, 0, 0, 0, 0.2, 0.3, 0.5, 0.2, 2.0, 4.2, 0.3],
    [0, 0, 0, 0, 7.0, 2.0, 3.0, 1.0, 0.3, 0.8, 1.5, 0.3, 0, 0, 0, 0, 0, 0, 0.3, 0, 0, 0, 0, 0, 0, 0, 0.2, 0.3, 0.2, 3.5, 1.0],
    [0, 0, 0, 0, 3.0, 3.0, 1.5, 0.5, 0.2, 1.8, 0.8, 0.1, 0.3, 0.2, 0, 0, 0, 0.2, 0, 0, 0, 0, 0.1, 0.3, 0.5, 5.0, 3.0, 1.5, 1.0, 0.5, 2.0],
    [0, 0, 0, 0, 5.5, 0.8, 0.5, 2.8, 0.5, 0.3, 0.2, 0, 0, 0, 0, 0, 0, 0, 0, 0, 0, 0, 0, 0, 0, 0, 0, 0.1, 0.2, 0.3, 0.1],
    [0, 0, 0, 0, 6.0, 2.5, 1.0, 0.3, 0.1, 2.2, 0.5, 0.1, 0, 0.1, 0, 0, 0, 0, 0, 0.2, 0, 0, 0, 0.1, 0.3, 0.3, 0.5, 1.0, 2.5, 1.0, 0.5],
    [0, 0, 0, 0, 9.0, 1.2, 0.8, 0.4, 0.1, 0.5, 0.4, 0.2, 0, 0, 0, 0, 0, 0, 0, 0, 0, 0.2, 0.5, 0.2, 0, 0.3, 0.2, 0.8, 0.5, 0.4, 1.0],
    [0, 0, 0, 0, 3.5, 4.0, 0.5, 0.2, 0.2, 0.5, 1.2, 0.5, 0, 0, 2.0, 0, 0, 0, 0, 0, 0, 0, 0, 0, 0, 0, 0, 0, 0.3, 1.5, 3.0],
    [0, 0, 0, 0, 10.0, 1.0, 1.2, 0.5, 0.1, 1.5, 0.5, 0.2, 0, 0, 0, 0, 0.3, 0, 0, 0, 0, 0, 0, 0, 1.0, 0.2, 0, 0.3, 0.5, 0.5, 1.0],
    [0, 0, 0, 0, 6.5, 1.8, 0.9, 0.4, 0.2, 0.8, 0.6, 0.2, 0.1, 0.1, 0, 0.1, 0, 0, 0, 0, 0, 0, 0.1, 0.3, 0.2, 0.4, 0.3, 0.6, 0.8, 0.5, 1.2],
    [0, 0, 0, 0, 4.5, 2.6, 0.7, 0.6, 0.3, 1.2, 0.4, 0.1, 0, 0, 0.2, 0, 0, 0, 0.1, 0, 0, 0, 0, 0.2, 0.5, 0.1, 0.9, 0.3, 0.5, 1.0, 0.6],
    [0, 0, 0, 0, 7.5, 1.2, 1.4, 0.3, 0.1, 0.6, 0.7, 0.4, 0.1, 0, 0, 0, 0, 0.1, 0, 0, 0, 0, 0.3, 0.8, 0.2, 0.5, 0.1, 0.2, 0.6, 0.4, 0.3],
    [0, 0, 0, 0, 5.8, 3.0, 0.6, 0.8, 0.4, 1.6, 0.9, 0.1, 0, 0, 0.2, 0.1, 0, 0, 0, 0.1, 0, 0.1, 0, 0.1, 0.1, 1.0, 0.5, 0.8, 0.3, 0.7, 2.4],
    [0, 0, 0, 0, 4.0, 1.5, 1.0, 0.3, 0.2, 0.9, 0.3, 0.2, 0.1, 0.3, 0, 0, 0, 0, 0, 0, 0.1, 0, 0.2, 0.1, 0.3, 0.2, 0.6, 0.4, 1.1, 0.3, 0.9],
    [0, 0, 0, 0, 8.5, 1.7, 0.7, 0.5, 0.1, 0.6, 0.8, 0.1, 0, 0, 0, 0.2, 0, 0, 0, 0, 0, 0, 0, 0.1, 0, 0.1, 0.3, 0.2, 0.4, 0.8, 0.5],
]

# ---------------- figure ----------------
W, H = 863, 619
fig = plt.figure(figsize=(W / 100, H / 100), dpi=100)

GREEN = '#8cbf4c'
BLUE = '#1c1ccc'
RED = '#e8261c'
BROWN = '#3a2414'
TAN = '#c8a882'
PINK = '#dba8e0'


def make_axes(col, row):
    left = [33, 463][col]
    width = [370, 371][col]
    top = [29, 234, 440][row]
    return fig.add_axes([left / W, 1 - (top + 146.5) / H, width / W, 146.5 / H])


def panel(col, row, members, mean, ctrl, oper, ylim, ymaj, ymin, ylabel, label, hlines):
    ax = make_axes(col, row)
    for y, c, lw in hlines:
        ax.axhline(y, color=c, lw=lw, zorder=1)
    for m in members:
        ax.plot(t_mem, m, color=GREEN, lw=0.7, zorder=2)
    ax.plot(t6, mean, color=TAN, lw=1.3, zorder=3)
    l_mean, = ax.plot(t6, mean, color=BROWN, lw=1.3, ls=(0, (1, 1.2)), zorder=4, label='Ens mn')
    l_ctrl, = ax.plot(t6, ctrl, color=BLUE, lw=1.5, ls=(0, (1, 1.2)), zorder=5, label='Control')
    l_oper, = ax.plot(t_oper, oper, color=RED, lw=1.6, zorder=6, label='Oper')

    ax.set_xlim(0, 360)
    ax.set_ylim(*ylim)
    ax.set_xticks(np.arange(0, 361, 12))
    ax.set_xticklabels(['00' if i % 2 == 0 else '12' for i in range(31)])
    ax.xaxis.set_minor_locator(MultipleLocator(6))
    ax.yaxis.set_major_locator(MultipleLocator(ymaj))
    ax.yaxis.set_minor_locator(MultipleLocator(ymin))
    ax.tick_params(axis='both', which='major', direction='out', length=3.5, width=0.8,
                   labelsize=5.5, pad=1.5, right=True, labelright=True)
    ax.tick_params(axis='both', which='minor', direction='out', length=2, width=0.6, right=True)
    ax.tick_params(axis='x', labelsize=5, pad=1.5)
    for s in ax.spines.values():
        s.set_linewidth(0.9)

    trans = mtransforms.blended_transform_factory(ax.transData, ax.transAxes)
    for d, name in enumerate(days):
        ax.text(12 + 24 * d, -0.12, name, transform=trans, ha='center', va='center',
                fontsize=6.8, fontweight='bold')

    ax.set_ylabel(ylabel, fontsize=6.5, fontweight='bold', labelpad=1)
    ax.text(0.86, 0.965, label, transform=ax.transAxes, ha='center', va='top',
            fontsize=7.2, fontweight='bold', linespacing=1.05)
    ax.legend(handles=[l_ctrl, l_oper, l_mean], loc='upper left', frameon=False, fontsize=6,
              handlelength=2.4, handletextpad=0.8, labelspacing=0.1, borderaxespad=0.2,
              borderpad=0.2)

    x0 = [0, 431][col]
    y0 = [0, 205, 410][row]
    fig.text((x0 + 229) / W, 1 - (y0 + 12) / H, title, ha='center', va='center',
             fontsize=8, fontweight='bold')
    fig.text((x0 + 428) / W, 1 - (y0 + 202.5) / H, 'Bron: ECMWF/KNMI', ha='right', va='center',
             fontsize=4.8, fontweight='bold', color='#1010cc')
    return ax


panel(0, 0, rr_members, rr_mean, rr_ctrl, rr_oper, (0, 25), 5, 1, 'mm', 'De Bilt\nNeerslag/6 uur',
      [(20, PINK, 1.5), (15, '#404040', 0.8)])
panel(1, 0, acc_members, acc_mean, acc_ctrl, acc_oper, (0, 80), 10, 2, 'mm', 'De Bilt\nAccum Neerslag',
      [(v, '#b8b8b8', 0.7) for v in range(10, 80, 10)])
panel(0, 1, ff_members, ff_mean, ff_ctrl, ff_oper, (0, 20), 5, 1, 'm/s', 'De Bilt\n10m wind',
      [(10.8, '#b4b4b4', 2.0), (13.9, '#a8a8a8', 1.0), (17.2, '#a8a8a8', 1.0)])
panel(1, 1, fx_members, fx_mean, fx_ctrl, fx_oper, (0, 35), 5, 1, 'm/s', 'De Bilt\nWindstoten',
      [(20.8, '#b4b4b4', 2.0), (24.5, '#707070', 1.0), (28.5, PINK, 1.5)])
ax_t = panel(0, 2, tt_members, tt_mean, tt_ctrl, tt_oper, (-20, 15), 5, 1, '(Celsius)', 'De Bilt\nT2m',
             [(0, '#a8a8a8', 1.6)])
panel(1, 2, sn_members, sn_mean, sn_ctrl, sn_oper, (0, 16), 2, 0.5, 'cm', 'De Bilt\nsneeuwval/6 uur',
      [(5, PINK, 1.5)])

# hand-drawn circle around the Zo-Ma period in the T2m panel
ax_t.add_patch(Ellipse((122, 0.7), 70, 12.6, fill=False, edgecolor='black', lw=2.2, zorder=8))

# blue panel frames
for xs, ys in [([431, 431], [0, H]), ([0, W], [205, 205]), ([0, W], [410, 410]),
               ([1, 1], [0, H]), ([W - 1, W - 1], [0, H]), ([0, W], [1, 1]), ([0, W], [H - 1, H - 1])]:
    fig.add_artist(Line2D([x / W for x in xs], [1 - y / H for y in ys], color='#1a1acc', lw=1.2,
                          transform=fig.transFigure))

fig.savefig('out.png', dpi=100)
